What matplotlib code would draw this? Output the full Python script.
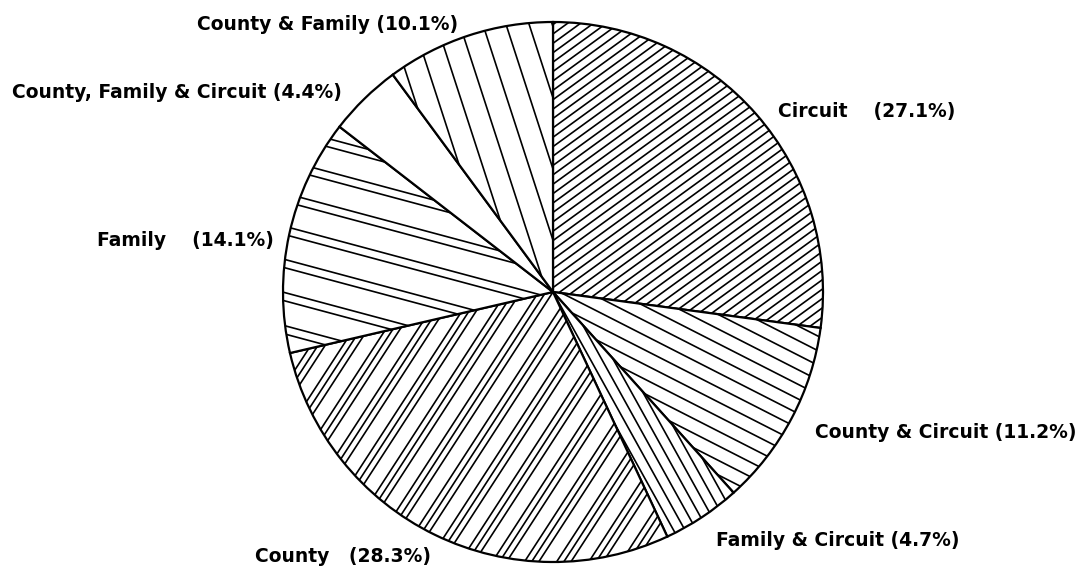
import numpy as np
import matplotlib
matplotlib.use("Agg")
import matplotlib.pyplot as plt
from matplotlib.collections import LineCollection

# ─── Data ────────────────────────────────────────────────
categories = ["Circuit", "County & Circuit", "Family & Circuit", "County",
              "Family", "County, Family & Circuit", "County & Family"]
shares = [27.1, 11.2, 4.7, 28.3, 14.1, 4.4, 10.1]
label_text = ["Circuit    (27.1%)", "County & Circuit (11.2%)",
              "Family & Circuit (4.7%)", "County   (28.3%)", "Family    (14.1%)",
              "County, Family & Circuit (4.4%)", "County & Family (10.1%)"]

# label anchors (left x, centre y) in pixel coords, y measured from top
label_pos = [(778, 112), (815, 432), (716, 540), (255, 557),
             (97, 240), (12, 92), (197, 24)]

# hatch per wedge: (line angle in degrees, repeating gaps in px); None = blank
hatches = [(36, [7.6]), (-27, [13]), (-61, [10]), (57, [6, 6, 15]),
           (-15, [8, 24]), None, (-72, [22])]

W, H = 1083, 570
cx, cy, R = 553, H - 292, 270

fig = plt.figure(figsize=(W / 100, H / 100), dpi=100)
ax = fig.add_axes([0, 0, 1, 1])

wedges, _ = ax.pie(shares, startangle=90, counterclock=False, center=(cx, cy),
                   radius=R, frame=True,
                   wedgeprops=dict(facecolor="white", edgecolor="black",
                                   linewidth=1.6))
ax.set_xlim(0, W)
ax.set_ylim(0, H)
ax.set_aspect("equal")
ax.axis("off")


def hatch_lines(angle, gaps):
    t = np.deg2rad(angle)
    d = np.array([np.cos(t), np.sin(t)])
    n = np.array([-np.sin(t), np.cos(t)])
    segs = []
    off, k = -R, 0
    while off <= R:
        p = np.array([cx, cy]) + n * off
        segs.append([p - d * 2 * R, p + d * 2 * R])
        off += gaps[k % len(gaps)]
        k += 1
    return segs


for w, h in zip(wedges, hatches):
    if h is None:
        continue
    lc = LineCollection(hatch_lines(*h), colors="black", linewidths=1.2)
    ax.add_collection(lc)
    lc.set_clip_path(w)

for txt, (x, y) in zip(label_text, label_pos):
    ax.text(x, H - y, txt, ha="left", va="center", fontsize=13.5,
            fontweight="bold", family="DejaVu Sans", color="black")

plt.savefig("out.png", dpi=100, facecolor="white")
